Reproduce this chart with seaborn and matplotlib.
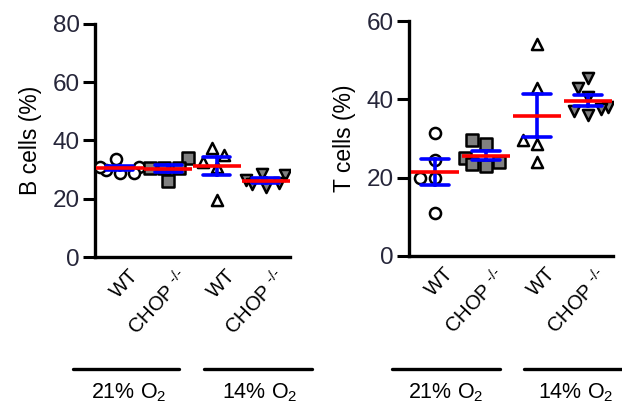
import matplotlib
matplotlib.use("Agg")
import matplotlib.pyplot as plt
import matplotlib.transforms as mtrans
import seaborn as sns
import pandas as pd
import numpy as np
from matplotlib.lines import Line2D

sns.set_style("ticks")
plt.rcParams['font.family'] = ['Liberation Sans', 'DejaVu Sans']
plt.rcParams['mathtext.fontset'] = 'custom'
plt.rcParams['mathtext.rm'] = 'Liberation Sans'
plt.rcParams['mathtext.it'] = 'Liberation Sans'

groups = ["WT 21%", "CHOP 21%", "WT 14%", "CHOP 14%"]
tick_labels = ["WT", "CHOP $^{\\text{-/-}}$", "WT", "CHOP $^{\\text{-/-}}$"]
o2_labels = ["21% O$_2$", "14% O$_2$"]

# B cells (%)
b_wt21 = [33.5, 31, 29, 29, 30, 31]
b_chop21 = [34, 30.5, 30.5, 30.5, 26]
b_wt14 = [37.5, 35, 32.5, 31, 19.5]
b_chop14 = [28.5, 26.5, 25, 24, 28, 25.5]

# T cells (%)
t_wt21 = [31.5, 24.5, 20, 20, 11]
t_chop21 = [29.5, 28.5, 25, 23.5, 23, 24]
t_wt14 = [54, 43, 29.5, 28.5, 24]
t_chop14 = [45.5, 43, 40.5, 38, 37, 36, 37.5]

markers = ["o", "s", "^", "v"]
faces = ["white", "#808080", "white", "#808080"]


def make_df(vals):
    rows = []
    for g, v in zip(groups, vals):
        for x in v:
            rows.append((g, x))
    return pd.DataFrame(rows, columns=["group", "value"])


fig = plt.figure(figsize=(6.22, 4.12), dpi=100)
ax1 = fig.add_axes([0.153, 0.376, 0.313, 0.566])
ax2 = fig.add_axes([0.658, 0.379, 0.328, 0.570])


def draw(ax, vals, ymax, ylabel):
    df = make_df(vals)
    for g, m, fc in zip(groups, markers, faces):
        sub = df[df.group == g]
        sns.swarmplot(data=sub, x="group", y="value", order=groups, ax=ax,
                      marker=m, color=fc, edgecolor="black", linewidth=1.8,
                      size=8, zorder=3)
    sns.pointplot(data=df, x="group", y="value", order=groups, ax=ax,
                  errorbar="se", capsize=0.55, color="#0000ff",
                  linestyle="none", marker="", err_kws={"linewidth": 2.6, "zorder": 4})
    sns.pointplot(data=df, x="group", y="value", order=groups, ax=ax,
                  errorbar=None, color="#ff0000", linestyle="none", marker="_",
                  markersize=34, markeredgewidth=2.6, zorder=5)
    ax.set_ylim(0, ymax)
    ax.set_xlim(-0.5, 3.5)
    ax.set_yticks(np.arange(0, ymax + 1, 20))
    ax.set_xlabel("")
    ax.set_ylabel(ylabel, fontsize=16.5, color="black", labelpad=8)
    sns.despine(ax=ax)
    for s in ["left", "bottom"]:
        ax.spines[s].set_linewidth(2.4)
        ax.spines[s].set_color("black")
    ax.tick_params(axis="y", length=9, width=2.2, labelsize=17.5, colors="black",
                   labelcolor="#26263a", pad=2)
    ax.tick_params(axis="x", length=0, pad=2)
    ax.set_xticks(range(4))
    ax.set_xticklabels(tick_labels, rotation=47, ha="right", rotation_mode="anchor",
                       fontsize=14.5, color="black")
    ax.legend_ = None


draw(ax1, [b_wt21, b_chop21, b_wt14, b_chop14], 80, "B cells (%)")
draw(ax2, [t_wt21, t_chop21, t_wt14, t_chop14], 60, "T cells (%)")

for ax in (ax1, ax2):
    for lbl in ax.get_xticklabels():
        lbl.set_transform(lbl.get_transform() + mtrans.ScaledTranslation(6/72, -4/72, fig.dpi_scale_trans))

line_y = 0.104
text_y = 0.046
spans = [(0.117, 0.288), (0.328, 0.502), (0.630, 0.804), (0.842, 1.0)]
centers = [0.207, 0.417, 0.716, 0.925]
for (x0, x1), c, t in zip(spans, centers, o2_labels * 2):
    fig.add_artist(Line2D([x0, x1], [line_y, line_y], color="black", lw=2.4,
                          transform=fig.transFigure))
    fig.text(c, text_y, t, ha="center", va="center", fontsize=15.5, color="black")

fig.savefig("out.png", dpi=100)
